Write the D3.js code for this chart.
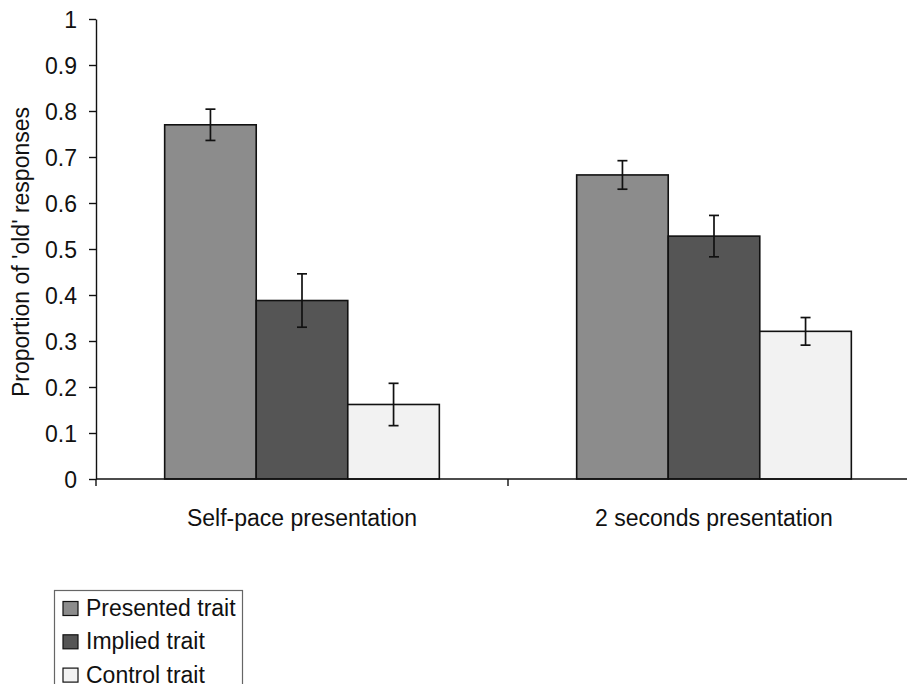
<!DOCTYPE html>
<html>
<head>
<meta charset="utf-8">
<script src="https://cdn.jsdelivr.net/npm/d3@7"></script>
<style>
  body { margin: 0; background: #fff; }
  svg { display: block; font-family: "Liberation Sans", Arial, sans-serif; }
</style>
</head>
<body>
<svg id="chart" width="907" height="684"></svg>
<script>
const groups = ["Self-pace presentation", "2 seconds presentation"];
const series = ["Presented trait", "Implied trait", "Control trait"];
const seriesColors = ["#8c8c8c", "#555555", "#f2f2f2"];
// values[group][series]
const values = [
  [0.77, 0.388, 0.162],
  [0.661, 0.528, 0.321]
];
const errors = [
  [0.034, 0.058, 0.046],
  [0.031, 0.045, 0.030]
];
const yTicks = [0, 0.1, 0.2, 0.3, 0.4, 0.5, 0.6, 0.7, 0.8, 0.9, 1];

const svg = d3.select("#chart");
const margin = { left: 96, top: 19, bottom: 479, right: 920 };

const x0 = d3.scaleBand()
  .domain(groups)
  .range([margin.left, margin.right])
  .paddingInner(0)
  .paddingOuter(0);

// Excel style gap width: 150% of a bar
const barW = x0.bandwidth() / (series.length + 1.5);
const x1 = d3.scaleBand()
  .domain(series)
  .range([0, barW * series.length]);

const y = d3.scaleLinear().domain([0, 1]).range([margin.bottom, margin.top]);

const rows = groups.flatMap((g, gi) =>
  series.map((s, si) => ({ g, s, si, v: values[gi][si], e: errors[gi][si] }))
);

const barX = (d) => x0(d.g) + (x0.bandwidth() - barW * series.length) / 2 + x1(d.s);

svg.append("g")
  .selectAll("rect")
  .data(rows)
  .enter()
  .append("rect")
  .attr("x", barX)
  .attr("y", (d) => y(d.v))
  .attr("width", x1.bandwidth())
  .attr("height", (d) => y(0) - y(d.v))
  .attr("fill", (d) => seriesColors[d.si])
  .attr("stroke", "#111")
  .attr("stroke-width", 1.6);

const errG = svg.append("g").attr("stroke", "#111").attr("stroke-width", 1.7);
rows.forEach((d) => {
  const cx = barX(d) + x1.bandwidth() / 2;
  errG.append("line").attr("x1", cx).attr("x2", cx).attr("y1", y(d.v + d.e)).attr("y2", y(d.v - d.e));
  errG.append("line").attr("x1", cx - 5).attr("x2", cx + 5).attr("y1", y(d.v + d.e)).attr("y2", y(d.v + d.e));
  errG.append("line").attr("x1", cx - 5).attr("x2", cx + 5).attr("y1", y(d.v - d.e)).attr("y2", y(d.v - d.e));
});

// y axis
const yAxis = svg.append("g")
  .attr("transform", `translate(${margin.left},0)`)
  .call(d3.axisLeft(y).tickValues(yTicks).tickFormat((d) => String(+d.toFixed(1))).tickSize(7).tickSizeOuter(0));
yAxis.select(".domain").attr("stroke", "#111").attr("stroke-width", 1.4);
yAxis.selectAll(".tick line").attr("stroke", "#111").attr("stroke-width", 1.4);
yAxis.selectAll(".tick text")
  .attr("x", -19)
  .attr("dy", "0.35em")
  .style("font-size", "23px")
  .attr("fill", "#111");

// x axis
const xAxisG = svg.append("g").attr("transform", `translate(0,${margin.bottom})`);
xAxisG.append("line")
  .attr("x1", margin.left).attr("x2", margin.right)
  .attr("stroke", "#111").attr("stroke-width", 1.4);
xAxisG.selectAll(".xt")
  .data(groups)
  .enter()
  .append("line")
  .attr("x1", (d) => x0(d)).attr("x2", (d) => x0(d))
  .attr("y1", 0).attr("y2", 7)
  .attr("stroke", "#111").attr("stroke-width", 1.4);
xAxisG.selectAll(".xl")
  .data(groups)
  .enter()
  .append("text")
  .attr("x", (d) => x0(d) + x0.bandwidth() / 2)
  .attr("y", 47)
  .attr("text-anchor", "middle")
  .style("font-size", "23px")
  .attr("fill", "#111")
  .text((d) => d);

// y title
svg.append("text")
  .attr("transform", `translate(29,252) rotate(-90)`)
  .attr("text-anchor", "middle")
  .style("font-size", "23px")
  .attr("fill", "#111")
  .text("Proportion of 'old' responses");

// legend
const legend = svg.append("g");
legend.append("rect")
  .attr("x", 54.5).attr("y", 590.5)
  .attr("width", 188).attr("height", 110)
  .attr("fill", "#fff").attr("stroke", "#666").attr("stroke-width", 1.2);
const items = legend.selectAll(".item")
  .data(series)
  .enter()
  .append("g")
  .attr("transform", (d, i) => `translate(63,${601.5 + i * 33.3})`);
items.append("rect")
  .attr("width", 15).attr("height", 14)
  .attr("fill", (d, i) => seriesColors[i])
  .attr("stroke", "#111").attr("stroke-width", 1.2);
items.append("text")
  .attr("x", 23).attr("y", 14.5)
  .style("font-size", "23px")
  .attr("fill", "#111")
  .text((d) => d);
</script>
</body>
</html>
